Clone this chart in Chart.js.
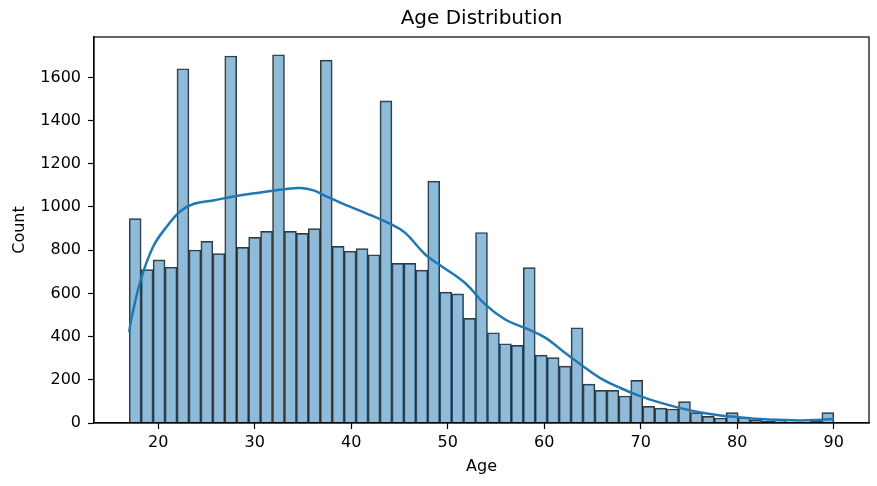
<!DOCTYPE html>
<html lang="en">
<head>
  <meta charset="UTF-8">
  <title>Age Distribution</title>
  <script src="https://cdn.jsdelivr.net/npm/chart.js"></script>
  <style>
    html, body {
      margin: 0;
      padding: 0;
      background: #fff;
    }
    #wrap {
      width: 877px;
      height: 486px;
    }
  </style>
</head>
<body>
  <div id="wrap">
    <canvas id="ageChart" width="877" height="486"></canvas>
  </div>

  <script>
    // Histogram: 59 bins from 17 to 90
    const binStart = 17
    const binEnd = 90
    const binCounts = [
      946, 710, 755, 721, 1640, 801, 841, 784, 1699, 813,
      859, 887, 1705, 887, 878, 900, 1680, 818, 795, 807,
      779, 1491, 739, 739, 708, 1120, 606, 598, 484, 882,
      418, 367, 359, 719, 314, 303, 263, 441, 180, 151,
      151, 125, 197, 77, 69, 65, 99, 48, 31, 23,
      48, 26, 14, 8, 18, 4, 3, 8, 48
    ]

    // KDE curve (age, count)
    const kdeAges = [
      17, 17.2, 18.2, 19.5, 20.9, 22.3, 23.7, 25.7, 27.8, 30.6,
      33.3, 34.7, 36.1, 37.3, 39.4, 41.5, 44.2, 45.6, 47.7, 49.4,
      51.8, 53.9, 56, 58, 60.1, 62, 63.8, 65.8, 67.9, 70,
      72.1, 74.1, 76.2, 78.3, 80.4, 82.4, 84.5, 86.6, 88.7, 90
    ]
    const kdeCounts = [
      420, 478, 663, 818, 910, 980, 1015, 1030, 1049, 1067,
      1083, 1088, 1077, 1052, 1010, 972, 918, 880, 779, 725,
      648, 548, 478, 440, 395, 330, 270, 208, 162, 123,
      93, 69, 49, 35, 26, 18, 14, 12, 15, 18
    ]

    // Axis ticks and limits
    const xTicks = [20, 30, 40, 50, 60, 70, 80, 90]
    const yTicks = [0, 200, 400, 600, 800, 1000, 1200, 1400, 1600]
    const xLimits = [13.35, 93.65]
    const yLimits = [0, 1787]

    const binWidth = (binEnd - binStart) / binCounts.length
    const histData = binCounts.map((c, i) => ({ x: binStart + (i + 0.5) * binWidth, y: c }))
    const kdeData = kdeAges.map((a, i) => ({ x: a, y: kdeCounts[i] }))

    const font = 'DejaVu Sans, Verdana, sans-serif'

    // Matplotlib-like box around the axes
    const frame = {
      id: 'frame',
      afterDraw(chart) {
        const { ctx, chartArea: a } = chart
        ctx.save()
        ctx.strokeStyle = '#000'
        ctx.lineWidth = 1.2
        ctx.strokeRect(a.left, a.top, a.right - a.left, a.bottom - a.top)
        ctx.restore()
      }
    }

    new Chart(document.getElementById('ageChart'), {
      type: 'bar',
      data: {
        datasets: [
          {
            type: 'line',
            label: 'KDE',
            data: kdeData,
            borderColor: '#1f77b4',
            borderWidth: 2.5,
            pointRadius: 0,
            tension: 0.4,
            fill: false,
            order: 0
          },
          {
            label: 'Count',
            data: histData,
            backgroundColor: 'rgba(31, 119, 180, 0.5)',
            borderColor: 'rgba(20, 20, 20, 0.85)',
            borderWidth: 1,
            barPercentage: 1,
            categoryPercentage: 1,
            order: 1
          }
        ]
      },
      options: {
        responsive: false,
        animation: false,
        layout: { padding: { left: 0, right: 8, top: 0, bottom: 0 } },
        plugins: {
          legend: { display: false },
          tooltip: { enabled: false },
          title: {
            display: true,
            text: 'Age Distribution',
            fullSize: false,
            color: '#000',
            font: { family: font, size: 20, weight: 'normal' },
            padding: { top: 7, bottom: 6 }
          }
        },
        scales: {
          x: {
            type: 'linear',
            offset: false,
            min: xLimits[0],
            max: xLimits[1],
            afterBuildTicks: s => { s.ticks = xTicks.map(v => ({ value: v })) },
            afterFit: s => { s.height = 63 },
            grid: { offset: false, drawOnChartArea: false, drawTicks: true, tickLength: 6, color: '#000', tickWidth: 1.2 },
            border: { display: true, color: '#000', width: 1.2 },
            ticks: { color: '#000', padding: 4, maxRotation: 0, font: { family: font, size: 16 } },
            title: {
              display: true,
              text: 'Age',
              color: '#000',
              font: { family: font, size: 16 },
              padding: { top: 0, bottom: 10 }
            }
          },
          y: {
            min: yLimits[0],
            max: yLimits[1],
            afterBuildTicks: s => { s.ticks = yTicks.map(v => ({ value: v })) },
            afterFit: s => { s.width = 94 },
            grid: { drawOnChartArea: false, drawTicks: true, tickLength: 6, color: '#000', tickWidth: 1.2 },
            border: { display: true, color: '#000', width: 1.2 },
            ticks: {
              color: '#000',
              padding: 7,
              font: { family: font, size: 16 },
              callback: v => String(v)
            },
            title: {
              display: true,
              text: 'Count',
              color: '#000',
              font: { family: font, size: 16 },
              padding: { top: 10, bottom: 0 }
            }
          }
        }
      },
      plugins: [frame]
    })
  </script>
</body>
</html>
